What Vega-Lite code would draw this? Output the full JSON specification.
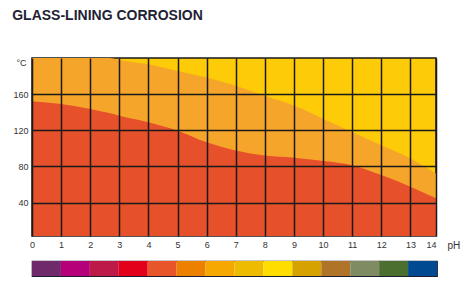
{
  "$schema": "https://vega.github.io/schema/vega-lite/v6.json",
  "padding": {"left": 12, "top": 9, "right": 2, "bottom": 2},
  "background": "white",
  "config": {"view": {"stroke": null}, "font": "Liberation Sans"},
  "title": {"text": "GLASS-LINING CORROSION", "anchor": "start", "frame": "bounds", "fontSize": 14, "font": "Liberation Sans", "fontWeight": "bold", "color": "#231f35", "offset": 34},
  "spacing": 9,
  "vconcat": [
    {
      "width": 404,
      "height": 178,
      "view": {"fill": "#FDCB08", "stroke": "#1a1a1a", "strokeWidth": 1.5},
      "data": {"values": [
        {"ph": 0, "lower": 152, "upper": 200},
        {"ph": 1, "lower": 149, "upper": 200},
        {"ph": 2, "lower": 143.5, "upper": 200},
        {"ph": 2.65, "lower": 139, "upper": 200},
        {"ph": 3, "lower": 136, "upper": 197.8},
        {"ph": 4, "lower": 129, "upper": 193},
        {"ph": 5, "lower": 119.6, "upper": 185.7},
        {"ph": 6, "lower": 106.7, "upper": 178.3},
        {"ph": 7, "lower": 97.6, "upper": 169.2},
        {"ph": 8, "lower": 92, "upper": 158.1},
        {"ph": 9, "lower": 89.7, "upper": 147.3},
        {"ph": 10, "lower": 86.1, "upper": 132.8},
        {"ph": 11, "lower": 81.4, "upper": 118.1},
        {"ph": 12, "lower": 70.4, "upper": 103.4},
        {"ph": 13, "lower": 57.5, "upper": 88.8},
        {"ph": 13.88, "lower": 44.7, "upper": 72.2}
      ]},
      "layer": [
        {
          "mark": {"type": "area", "color": "#F5A52A", "interpolate": "monotone", "opacity": 1},
          "encoding": {
            "x": {"field": "ph", "type": "quantitative",
              "scale": {"domain": [0, 13.88], "nice": false, "zero": false},
              "axis": {
                "values": [0, 1, 2, 3, 4, 5, 6, 7, 8, 9, 10, 11, 12, 13, 13.88],
                "tickCount": 30,
                "format": ".0f",
                "labelAlign": {"condition": {"test": "datum.value > 13.5", "value": "right"}, "value": "center"},
                "labelOverlap": false,
                "grid": true, "gridColor": "#1a1a1a", "gridWidth": 1.5, "gridOpacity": 1,
                "ticks": false, "domain": false, "labelPadding": 4,
                "labelFontSize": 9, "labelColor": "#333333", "labelFlush": false,
                "title": "pH", "titleFontWeight": "normal", "titleFontSize": 10, "titleColor": "#333333",
                "titleAngle": 0, "titleX": 415, "titleY": 4, "titleAlign": "left", "titleBaseline": "top",
                "zindex": 1
              }
            },
            "y": {"field": "upper", "type": "quantitative",
              "scale": {"domain": [3, 200], "nice": false, "zero": false},
              "axis": {
                "values": [40, 80, 120, 160],
                "tickCount": 10,
                "grid": true, "gridColor": "#1a1a1a", "gridWidth": 1.5, "gridOpacity": 1,
                "ticks": false, "domain": false, "labelPadding": 4,
                "labelFontSize": 9, "labelColor": "#333333",
                "title": "°C", "titleFontWeight": "normal", "titleFontSize": 9, "titleColor": "#333333",
                "titleAngle": 0, "titleX": -6, "titleY": 0, "titleAlign": "right", "titleBaseline": "top",
                "zindex": 1
              }
            },
            "y2": {"datum": 3}
          }
        },
        {
          "mark": {"type": "area", "color": "#E6502A", "interpolate": "monotone", "opacity": 1},
          "encoding": {
            "x": {"field": "ph", "type": "quantitative"},
            "y": {"field": "lower", "type": "quantitative"},
            "y2": {"datum": 3}
          }
        }
      ]
    },
    {
      "width": 405,
      "height": 15,
      "view": {"stroke": "#1c1c33", "strokeWidth": 1.2},
      "data": {"values": [
        {"start": 0, "end": 1, "c": "#6E2A6B"},
        {"start": 1, "end": 2, "c": "#B5007A"},
        {"start": 2, "end": 3, "c": "#BE1A48"},
        {"start": 3, "end": 4, "c": "#E2001A"},
        {"start": 4, "end": 5, "c": "#E8552A"},
        {"start": 5, "end": 6, "c": "#EE8000"},
        {"start": 6, "end": 7, "c": "#F6A800"},
        {"start": 7, "end": 8, "c": "#EDBC00"},
        {"start": 8, "end": 9, "c": "#FFDD00"},
        {"start": 9, "end": 10, "c": "#D6A200"},
        {"start": 10, "end": 11, "c": "#B07428"},
        {"start": 11, "end": 12, "c": "#7F8B62"},
        {"start": 12, "end": 13, "c": "#4A6F2E"},
        {"start": 13, "end": 14, "c": "#004A92"}
      ]},
      "mark": {"type": "rect"},
      "encoding": {
        "x": {"field": "start", "type": "quantitative", "scale": {"domain": [0, 14], "nice": false, "zero": false}, "axis": null},
        "x2": {"field": "end"},
        "color": {"field": "c", "type": "nominal", "scale": null, "legend": null}
      }
    }
  ]
}
